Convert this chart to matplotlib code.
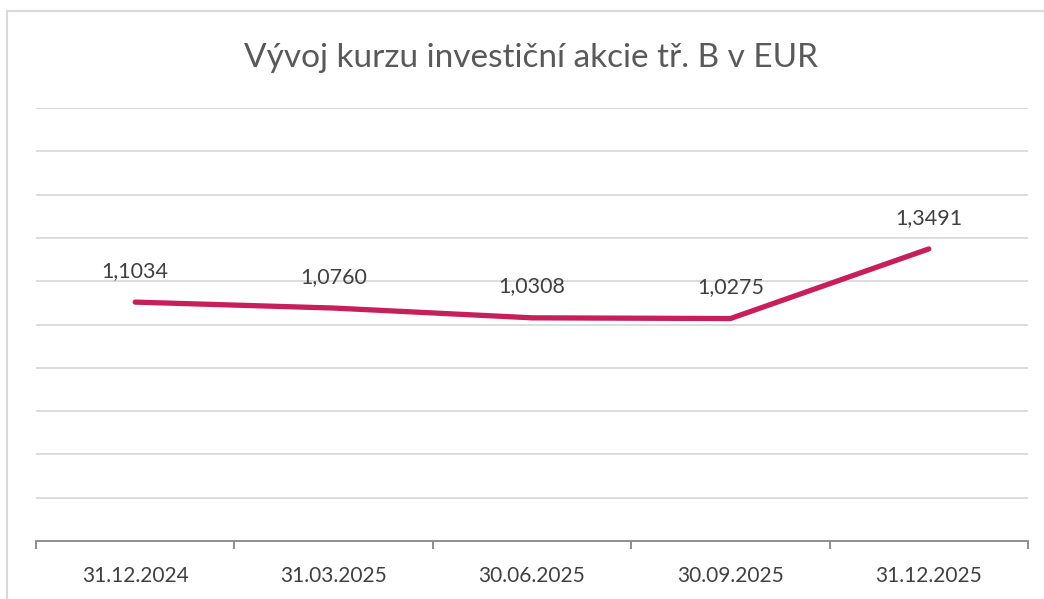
import matplotlib.pyplot as plt
from matplotlib.patches import Rectangle
import numpy as np

# data
dates = ['31.12.2024', '31.03.2025', '30.06.2025', '30.09.2025', '31.12.2025']
price = [1.1034, 1.0760, 1.0308, 1.0275, 1.3491]
price_labels = ['1,1034', '1,0760', '1,0308', '1,0275', '1,3491']

plt.rcParams['font.family'] = ['Lato', 'DejaVu Sans']

fig = plt.figure(figsize=(10.44, 5.99), dpi=100)
ax = fig.add_axes([36 / 1044, 1 - 541 / 599, 992 / 1044, (541 - 108) / 599])

x = np.arange(len(dates))
ax.plot(x, price, color='#C71F5A', linewidth=3.8, solid_capstyle='round')

for xi, yi, lab in zip(x, price, price_labels):
    ax.annotate(lab, (xi, yi), xytext=(0, 22.5), textcoords='offset points',
                ha='center', va='center', fontsize=15.5, color='#404040')

ax.set_xlim(-0.5, len(dates) - 0.5)
ax.set_ylim(0, 2.0)
ax.set_yticks(np.arange(0.2, 2.01, 0.2))
ax.yaxis.grid(True, color='#d9d9d9', linewidth=1.3)
ax.set_axisbelow(True)
ax.tick_params(axis='y', left=False, labelleft=False)

ax.set_xticks(x)
ax.set_xticklabels(dates, fontsize=15, color='#404040')
ax.set_xticks(np.arange(-0.5, len(dates), 1.0), minor=True)
ax.tick_params(axis='x', which='major', length=0, pad=18)
ax.tick_params(axis='x', which='minor', length=6, width=1.3, color='#868686', direction='out')

for side in ['top', 'right', 'left']:
    ax.spines[side].set_visible(False)
ax.spines['bottom'].set_color('#868686')
ax.spines['bottom'].set_linewidth(1.3)

fig.text(531 / 1044, 1 - 58 / 599, 'Vývoj kurzu investiční akcie tř. B v EUR',
         ha='center', va='center', fontsize=24, color='#595959')

# chart border (cut off at right/bottom in the reference)
fig.patches.append(Rectangle((6.5 / 1044, -0.05), 1.1, 1 - 10.5 / 599 + 0.05,
                             transform=fig.transFigure, fill=False,
                             edgecolor='#d9d9d9', linewidth=1.5))

fig.savefig('out.png', dpi=100)
